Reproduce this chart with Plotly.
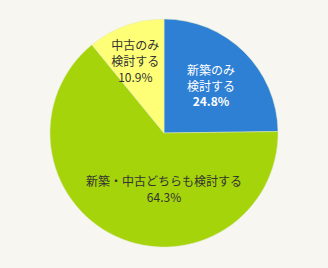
import plotly.graph_objects as go

labels = ["新築のみ検討する", "新築・中古どちらも検討する", "中古のみ検討する"]
values = [24.8, 64.3, 10.9]
texts = ["新築のみ<br>検討する<br><b>24.8%</b>",
         "\u00a0<br>\u00a0<br>新築・中古どちらも検討する<br>64.3%",
         "\u00a0<br>中古のみ<br>検討する<br>10.9%"]
colors = ["#2e80d4", "#a5d40a", "#ffff77"]
text_colors = ["#ffffff", "#333333", "#333333"]

W, H = 328, 268
cx, cy, r = 164, 133, 114

fig = go.Figure(go.Pie(
    labels=labels, values=values, text=texts,
    textinfo="text", textposition="inside", insidetextorientation="horizontal",
    sort=False, direction="clockwise", rotation=0,
    marker=dict(colors=colors, line=dict(width=0.5, color="#dfe8c8")),
    textfont=dict(family="Noto Sans CJK JP", size=12, color=text_colors),
    hoverinfo="label+percent",
    domain=dict(x=[(cx - r) / W, (cx + r) / W], y=[(H - cy - r) / H, (H - cy + r) / H]),
))
fig.update_layout(
    width=W, height=H, margin=dict(l=0, r=0, t=0, b=0),
    paper_bgcolor="#f7f6f0", plot_bgcolor="#f7f6f0", showlegend=False,
    uniformtext=dict(minsize=12, mode="show"),
)
fig.write_html("out.html")
